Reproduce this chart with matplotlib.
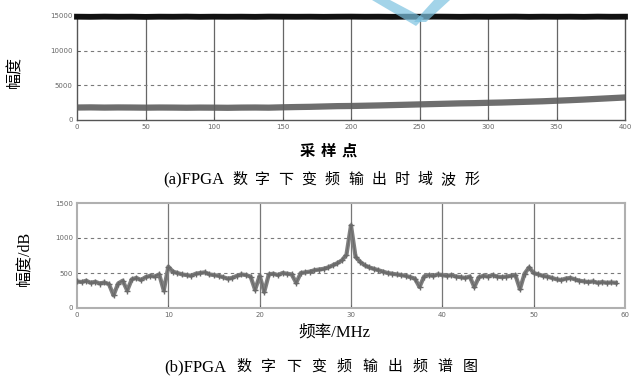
import numpy as np
import matplotlib
matplotlib.use("Agg")
import matplotlib.pyplot as plt
from matplotlib.patches import Polygon

W, H = 634, 381

# (a) time-domain output, sampled every 10 points
sample_idx = list(range(0, 401, 10))
ch_high = [14900, 14880, 14910, 14890, 14900, 14870, 14900, 14890, 14910, 14880,
           14900, 14890, 14900, 14880, 14910, 14900, 14890, 14900, 14880, 14900,
           14910, 14890, 14900, 14880, 14900, 14890, 14910, 14900, 14880, 14900,
           14890, 14900, 14910, 14880, 14900, 14890, 14900, 14880, 14910, 14890,
           14900]
ch_low = [1800, 1820, 1790, 1810, 1800, 1780, 1800, 1790, 1770, 1790,
          1780, 1760, 1790, 1800, 1780, 1830, 1870, 1900, 1950, 2000,
          2020, 2060, 2100, 2150, 2200, 2250, 2300, 2350, 2400, 2430,
          2480, 2520, 2580, 2640, 2700, 2780, 2860, 2950, 3050, 3150,
          3250]
time_xticks = [0, 50, 100, 150, 200, 250, 300, 350, 400]
time_yticks = [0, 5000, 10000, 15000]

# (b) spectrum, 0.5 MHz steps
freq = [i * 0.5 for i in range(119)]
amp = [380, 370, 390, 360, 375, 350, 365, 340, 180, 350,
       390, 250, 410, 430, 400, 440, 460, 450, 480, 250,
       590, 520, 500, 480, 470, 460, 490, 500, 510, 480,
       470, 460, 440, 420, 430, 460, 480, 470, 450, 260,
       460, 230, 480, 490, 470, 500, 490, 480, 360, 500,
       510, 520, 540, 550, 560, 580, 610, 640, 680, 760,
       1180, 730, 660, 610, 580, 560, 540, 520, 500, 490,
       480, 470, 460, 440, 420, 300, 450, 470, 460, 480,
       470, 460, 470, 450, 440, 430, 450, 300, 440, 460,
       450, 470, 450, 440, 450, 460, 470, 270, 490, 580,
       500, 480, 460, 450, 430, 410, 400, 420, 430, 410,
       390, 380, 370, 380, 360, 370, 360, 365, 360]
freq_xticks = [0, 10, 20, 30, 40, 50, 60]
freq_yticks = [0, 500, 1000, 1500]

cjk = ['Noto Sans CJK SC', 'DejaVu Sans']
serif_cjk = ['Liberation Serif', 'Noto Sans CJK SC']

fig = plt.figure(figsize=(W / 100, H / 100), dpi=100)


def px_axes(left, top, right, bottom):
    return fig.add_axes([left / W, 1 - bottom / H, (right - left) / W, (bottom - top) / H])


def style_axes(ax, xticks, yticks, vcol, spine_col, spine_w):
    ax.set_xticks(xticks)
    ax.set_yticks(yticks)
    ax.set_xticklabels([str(t) for t in xticks])
    ax.set_yticklabels([str(t) for t in yticks])
    ax.tick_params(direction='in', length=2, width=0.6, labelsize=5,
                   labelcolor='#666666', color='#555555', pad=3)
    for x in xticks[1:-1]:
        ax.axvline(x, color=vcol, lw=0.9, zorder=1)
    for y in yticks[1:-1]:
        ax.axhline(y, color='#7a7a7a', lw=0.8, ls=(0, (3, 3)), zorder=1)
    for s in ax.spines.values():
        s.set_color(spine_col)
        s.set_linewidth(spine_w)


def spaced(x0, y, text, pitch, size, **kw):
    for i, ch in enumerate(text):
        fig.text((x0 + i * pitch) / W, 1 - y / H, ch, ha='left', va='center',
                 fontsize=size, family=cjk, **kw)


# time-domain panel
ax1 = px_axes(77, 16, 625, 120)
ax1.plot(sample_idx, ch_high, color='#111111', lw=4.2, zorder=3, clip_on=False)
ax1.plot(sample_idx, ch_low, color='#5e5e5e', lw=4.5, alpha=0.9, zorder=3)
ax1.set_xlim(0, 400)
ax1.set_ylim(0, 15000)
style_axes(ax1, time_xticks, time_yticks, '#666666', '#555555', 1.0)

# spectrum panel
ax2 = px_axes(77, 203, 625, 308)
ax2.plot(freq, amp, color='#808080', lw=3.0, solid_joinstyle='round', zorder=3)
ax2.plot(freq, amp, color='#6a6a6a', lw=0.8, marker='+', ms=4, mew=1.0, zorder=4)
ax2.set_xlim(0, 60)
ax2.set_ylim(0, 1500)
style_axes(ax2, freq_xticks, freq_yticks, '#777777', '#b0b0b0', 1.5)

# axis labels
fig.text(15 / W, 1 - 72 / H, '幅度', rotation=90, ha='center', va='center',
         fontsize=11.5, family=cjk)
fig.text(25 / W, 1 - 258 / H, '幅度/dB', rotation=90, ha='center', va='center',
         fontsize=11.5, family=serif_cjk)
spaced(300, 151, '采样点', 21, 11, fontweight='bold')
fig.text(334 / W, 1 - 333 / H, '频率/MHz', ha='center', va='center',
         fontsize=12, family=serif_cjk)

# captions
fig.text(224 / W, 1 - 180 / H, '(a)FPGA', ha='right', va='center',
         fontsize=12, family=serif_cjk)
spaced(232, 180, '数字下变频输出时域波形', 23.2, 10.8, fontweight='medium')
fig.text(226 / W, 1 - 367 / H, '(b)FPGA', ha='right', va='center',
         fontsize=12, family=serif_cjk)
spaced(236, 367, '数字下变频输出频谱图', 25.2, 10.8, fontweight='medium')

# light blue pen-stroke mark at the top
for pts in ([[372, 0], [390, 0], [424, 18], [416, 26]],
            [[414, 22], [434, 0], [450, 0], [426, 22]]):
    fig.patches.append(Polygon([[x / W, 1 - y / H] for x, y in pts], closed=True,
                               transform=fig.transFigure, facecolor='#7cc2e0',
                               edgecolor='none', alpha=0.7, zorder=5))

fig.savefig('out.png', dpi=100)
